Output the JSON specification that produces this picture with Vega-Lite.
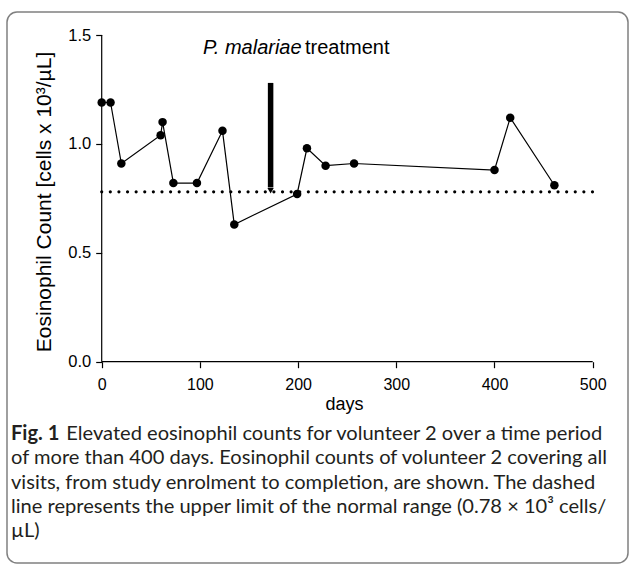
{
  "$schema": "https://vega.github.io/schema/vega-lite/v6.json",
  "width": 621,
  "height": 551,
  "autosize": {"type": "none"},
  "padding": {"left": 7, "top": 12, "right": 1, "bottom": 2},
  "background": "white",
  "config": {
    "view": {"stroke": "#808080", "strokeWidth": 1.5, "cornerRadius": 10},
    "font": "Liberation Sans"
  },
  "title": {
    "text": "Fig. 1",
    "subtitle": [
      "\u200b\u2003\u2003\u2003\u2002Elevated eosinophil counts for volunteer 2 over a time period",
      "of more than 400 days. Eosinophil counts of volunteer 2 covering all",
      "visits, from study enrolment to completion, are shown. The dashed",
      "line represents the upper limit of the normal range (0.78 \u00d7 10\u00b3 cells/",
      "\u00b5L)"
    ],
    "orient": "bottom",
    "anchor": "start",
    "frame": "group",
    "offset": -139,
    "dx": 4,
    "font": "Lato",
    "fontSize": 20.1,
    "fontWeight": "bold",
    "color": "#231f20",
    "subtitleFont": "Lato",
    "subtitleFontSize": 20.1,
    "subtitleFontWeight": "normal",
    "subtitleColor": "#231f20",
    "subtitleLineHeight": 24.3,
    "subtitlePadding": -20.1
  },
  "datasets": {
    "counts": [
      {"day": 0, "count": 1.19},
      {"day": 9, "count": 1.19},
      {"day": 20, "count": 0.91},
      {"day": 60, "count": 1.04},
      {"day": 62, "count": 1.10},
      {"day": 73, "count": 0.82},
      {"day": 97, "count": 0.82},
      {"day": 123, "count": 1.06},
      {"day": 135, "count": 0.63},
      {"day": 199, "count": 0.77},
      {"day": 209, "count": 0.98},
      {"day": 228, "count": 0.90},
      {"day": 257, "count": 0.91},
      {"day": 400, "count": 0.88},
      {"day": 416, "count": 1.12},
      {"day": 461, "count": 0.81}
    ],
    "axislines": [
      {"x1": 0, "x2": 500, "y1": 0, "y2": 0},
      {"x1": 0, "x2": 0, "y1": 0, "y2": 1.5}
    ],
    "normal": [{"start": 0, "end": 500, "limit": 0.78}],
    "treatment": [
      {"day": 172, "top": 1.28, "bottom": 0.8, "tip": 0.785, "labelY": 1.411, "species": "P. malariae", "word": "treatment"}
    ]
  },
  "layer": [
    {
      "data": {"name": "axislines"},
      "mark": {"type": "rule", "color": "black", "strokeWidth": 1.2},
      "encoding": {
        "x": {
          "field": "x1", "type": "quantitative", "title": "days",
          "scale": {"domain": [-96.44, 535.95], "nice": false, "zero": false},
          "axis": {
            "values": [0, 100, 200, 300, 400, 500],
            "offset": -201.3,
            "domain": false,
            "grid": false,
            "ticks": true,
            "tickSize": 6,
            "tickColor": "black",
            "tickWidth": 1.2,
            "labelPadding": 9,
            "labelFont": "Liberation Sans",
            "labelFontSize": 16,
            "labelColor": "black",
            "titleFont": "Liberation Sans",
            "titleFontSize": 18,
            "titleFontWeight": "normal",
            "titleColor": "black",
            "titleBaseline": "alphabetic",
            "titleX": 337,
            "titleY": 48,
            "titleAlign": "center"
          }
        },
        "x2": {"field": "x2"},
        "y": {
          "field": "y1", "type": "quantitative", "title": "Eosinophil Count [cells x 10\u00b3/\u00b5L]",
          "scale": {"domain": [-0.9242, 1.6056], "nice": false, "zero": false},
          "axis": {
            "values": [0, 0.5, 1, 1.5],
            "format": ".1f",
            "offset": -94.7,
            "domain": false,
            "grid": false,
            "tickSize": 6,
            "tickColor": "black",
            "tickWidth": 1.2,
            "labelPadding": 5,
            "labelFont": "Liberation Sans",
            "labelFontSize": 16.5,
            "labelColor": "black",
            "titleFont": "Liberation Sans",
            "titleFontSize": 21,
            "titleFontWeight": "normal",
            "titleColor": "black",
            "titleAngle": -90,
            "titleBaseline": "alphabetic",
            "titleAlign": "center",
            "titleX": -51.5,
            "titleY": 189.5
          }
        },
        "y2": {"field": "y2"}
      }
    },
    {
      "data": {"name": "normal"},
      "mark": {"type": "rule", "color": "black", "strokeWidth": 3.2, "strokeDash": [0.01, 8.6], "strokeCap": "round"},
      "encoding": {
        "x": {"field": "start", "type": "quantitative", "title": "days"},
        "x2": {"field": "end"},
        "y": {"field": "limit", "type": "quantitative", "title": "Eosinophil Count [cells x 10\u00b3/\u00b5L]"}
      }
    },
    {
      "data": {"name": "counts"},
      "mark": {"type": "line", "color": "black", "strokeWidth": 1.2},
      "encoding": {
        "x": {"field": "day", "type": "quantitative", "title": "days"},
        "y": {"field": "count", "type": "quantitative", "title": "Eosinophil Count [cells x 10\u00b3/\u00b5L]"}
      }
    },
    {
      "data": {"name": "counts"},
      "mark": {"type": "point", "filled": true, "color": "black", "opacity": 1, "size": 72},
      "encoding": {
        "x": {"field": "day", "type": "quantitative", "title": "days"},
        "y": {"field": "count", "type": "quantitative", "title": "Eosinophil Count [cells x 10\u00b3/\u00b5L]"}
      }
    },
    {
      "data": {"name": "treatment"},
      "mark": {"type": "rule", "color": "black", "strokeWidth": 5.5},
      "encoding": {
        "x": {"field": "day", "type": "quantitative", "title": "days"},
        "y": {"field": "bottom", "type": "quantitative", "title": "Eosinophil Count [cells x 10\u00b3/\u00b5L]"},
        "y2": {"field": "top"}
      }
    },
    {
      "data": {"name": "treatment"},
      "mark": {"type": "point", "shape": "triangle-down", "filled": true, "color": "black", "opacity": 1, "size": 40},
      "encoding": {
        "x": {"field": "day", "type": "quantitative", "title": "days"},
        "y": {"field": "tip", "type": "quantitative", "title": "Eosinophil Count [cells x 10\u00b3/\u00b5L]"}
      }
    },
    {
      "data": {"name": "treatment"},
      "mark": {"type": "text", "align": "right", "baseline": "alphabetic", "dx": 31, "fontSize": 20, "fontStyle": "italic", "font": "Liberation Sans", "color": "black"},
      "encoding": {
        "x": {"field": "day", "type": "quantitative", "title": "days"},
        "y": {"field": "labelY", "type": "quantitative", "title": "Eosinophil Count [cells x 10\u00b3/\u00b5L]"},
        "text": {"field": "species"}
      }
    },
    {
      "data": {"name": "treatment"},
      "mark": {"type": "text", "align": "left", "baseline": "alphabetic", "dx": 34.4, "fontSize": 20, "font": "Liberation Sans", "color": "black"},
      "encoding": {
        "x": {"field": "day", "type": "quantitative", "title": "days"},
        "y": {"field": "labelY", "type": "quantitative", "title": "Eosinophil Count [cells x 10\u00b3/\u00b5L]"},
        "text": {"field": "word"}
      }
    }
  ]
}
